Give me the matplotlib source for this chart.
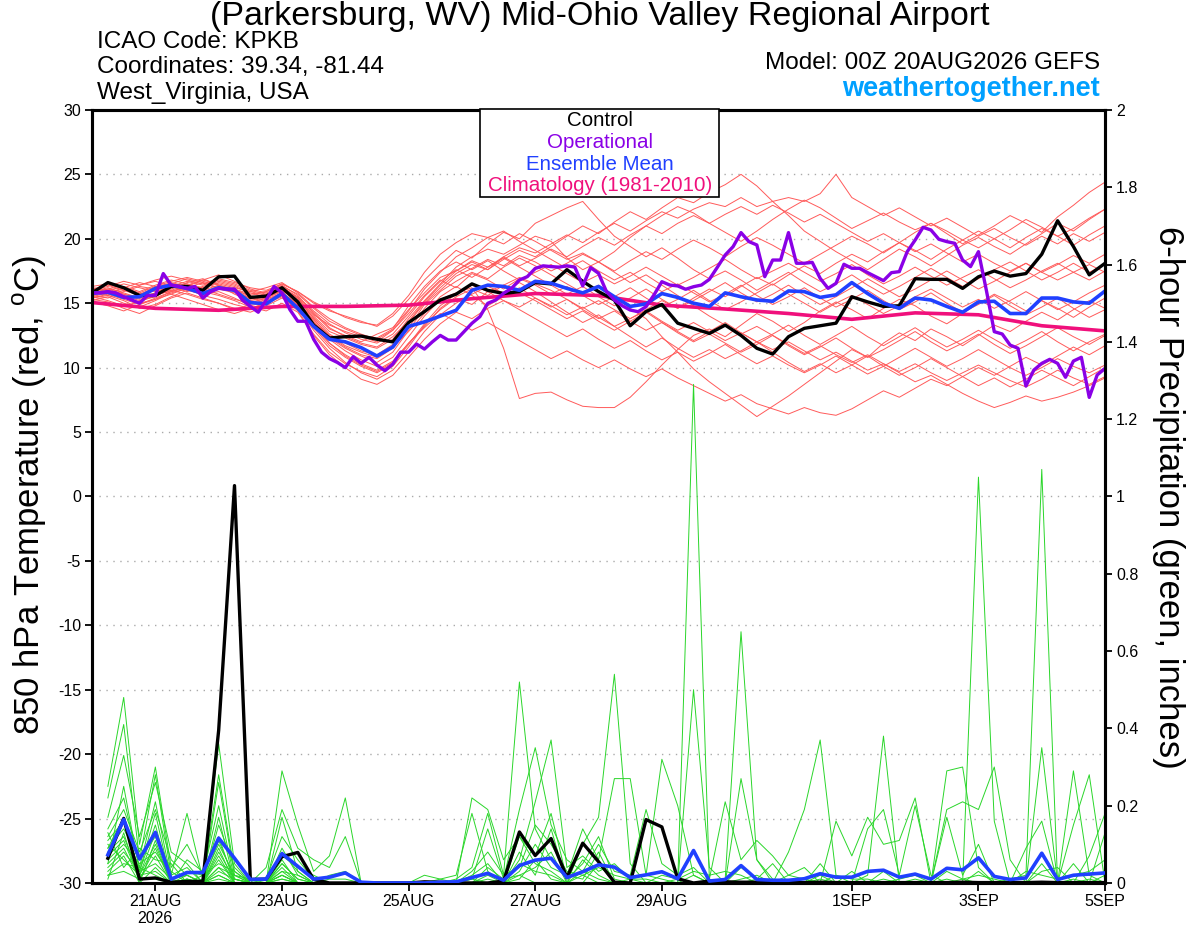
import numpy as np
import matplotlib
matplotlib.use("Agg")
import matplotlib.pyplot as plt
from matplotlib.patches import Rectangle

plt.rcParams['font.family'] = ['Liberation Sans', 'DejaVu Sans']
plt.rcParams['mathtext.fontset'] = 'custom'
plt.rcParams['mathtext.rm'] = 'Liberation Sans'
plt.rcParams['axes.unicode_minus'] = False

# forecast hours of the 00Z 20AUG2026 GEFS run
hours = np.arange(0, 385, 6)        # ensemble, 6-hourly
hours_op = np.arange(0, 385, 3)     # operational, 3-hourly
hours_pcp = hours[1:]               # 6-h precip ends at +6h
clim_hours = np.arange(0, 385, 24)  # daily climatology

tick_days = [1, 3, 5, 7, 9, 12, 14, 16]
tick_labels = ['21AUG\n2026', '23AUG', '25AUG', '27AUG', '29AUG', '1SEP', '3SEP', '5SEP']

# ---- 850 hPa temperature (C) ----
control_t = [15.8, 16.6, 16.2, 15.6, 15.6, 16.3, 16.3, 16.0, 17.05, 17.1, 15.45, 15.55, 16.2, 15.1, 13.3, 12.3, 12.4,
             12.45, 12.2, 12.0, 13.5, 14.35, 15.25, 15.7, 16.5, 16.0, 15.75, 15.9, 16.6, 16.5, 17.6, 16.7, 15.9,
             15.25, 13.25, 14.35, 14.9, 13.45, 13.05, 12.65, 13.3, 12.5, 11.5, 11.05, 12.4, 13.05, 13.25, 13.45, 15.5,
             15.1, 14.75, 14.8, 16.9, 16.85, 16.85, 16.15, 17.05, 17.5, 17.1, 17.3, 18.8, 21.4, 19.4, 17.2, 18.1]

mean_t = [15.77, 15.85, 15.45, 15.5, 16.15, 16.4, 16.15, 15.75, 16.2, 16.0, 15.05, 14.95, 15.75, 14.6, 13.2, 12.2, 12.0,
          11.55, 10.9, 11.6, 13.2, 13.55, 14.0, 14.45, 16.0, 16.4, 16.3, 16.0, 16.7, 16.55, 16.15, 15.8, 16.3,
          15.5, 14.75, 14.95, 15.75, 15.45, 15.0, 14.75, 15.8, 15.5, 15.25, 15.15, 15.95, 15.9, 15.45, 15.65, 16.6,
          15.75, 15.0, 14.6, 15.4, 15.25, 14.75, 14.3, 15.1, 15.15, 14.2, 14.2, 15.4, 15.4, 15.1, 15.0, 15.95]

clim_t = [15.05, 14.6, 14.45, 14.75, 14.75, 14.85, 15.35, 15.75, 15.6, 14.85, 14.55, 14.2, 13.75, 14.25, 14.1,
          13.25, 12.85]

oper_t = [15.8, 15.8, 15.9, 15.8, 15.5, 15.25, 15.0, 15.6, 15.6, 17.3, 16.4, 16.3, 16.15, 16.3, 15.4, 15.9, 16.15,
          16.1, 16.1, 15.25, 14.75, 14.3, 15.25, 16.3, 15.8, 14.5, 13.6, 13.6, 12.2, 11.2, 10.7, 10.4, 10.0,
          10.85, 10.33, 10.8, 10.2, 9.76, 10.28, 11.2, 11.2, 11.83, 11.44, 12.0, 12.5, 12.14, 12.14, 12.79, 13.44,
          13.95, 14.99, 15.25, 15.77, 16.15, 16.8, 17.06, 17.7, 17.9, 17.84, 17.8, 17.9, 17.8, 16.34, 17.76, 17.32,
          15.9, 15.25, 14.8, 14.47, 14.34, 14.73, 15.64, 16.67, 16.41, 16.34, 16.08, 16.28, 16.41, 16.85, 17.78, 18.74,
          19.39, 20.48, 19.78, 19.52, 17.06, 18.35, 18.35, 20.48, 18.1, 18.1, 18.17, 16.93, 16.15, 16.54, 18.02, 17.71,
          17.71, 17.37, 17.06, 16.75, 17.37, 17.45, 19.0, 19.9, 20.89, 20.68, 19.96, 19.78, 19.65, 18.35, 17.84, 19.0,
          16.0, 12.79, 12.61, 11.75, 11.5, 8.57, 9.81, 10.33, 10.64, 10.33, 9.25, 10.51, 10.8, 7.69, 9.43, 9.94]

members_t = [
    [15.6, 16.0, 16.3, 15.9, 16.4, 16.8, 16.5, 16.2, 16.6, 16.3, 15.8, 15.5, 16.0,
     15.2, 14.0, 12.8, 12.3, 11.8, 11.5, 12.2,
     13.8, 15.2, 16.5, 17.8, 18.6, 19.2, 18.8, 19.5, 20.2,
     19.8, 18.5, 17.6, 18.2, 19.0, 20.1, 21.0, 21.8, 22.5, 22.0, 21.2, 20.5, 19.8, 20.6, 21.5, 22.3, 23.0, 22.4,
     21.6, 20.8, 21.4, 22.0, 21.3, 20.7, 21.2, 20.4, 19.6, 20.3, 21.0, 21.8, 21.2, 20.5, 21.7, 22.6, 23.6, 24.4],
    [15.9, 16.2, 15.8, 15.4, 15.7, 16.1, 16.6, 16.9, 16.4, 16.0, 15.6, 15.9, 16.4,
     15.6, 14.2, 13.0, 12.5, 12.0, 12.6, 13.1,
     14.5, 15.8, 17.0, 17.5, 18.2, 17.6, 18.4, 19.1, 18.6,
     19.4, 20.2, 21.0, 20.4, 21.3, 22.1, 21.5, 22.4, 23.2, 22.8, 23.6, 24.2, 25.0, 24.1, 22.9, 21.8, 20.6, 19.8,
     19.0, 18.3, 17.6, 18.4, 19.2, 18.6, 17.9, 18.7, 19.5, 20.1, 19.4, 18.8, 19.6, 20.4, 21.2, 20.6, 21.5, 22.3],
    [15.4, 15.6, 15.2, 14.6, 14.9, 15.5, 16.0, 15.7, 15.9, 15.4, 14.8, 15.1, 15.7,
     15.0, 13.6, 12.2, 11.3, 10.6, 10.1, 10.8,
     12.4, 14.0, 15.3, 15.8, 16.2, 14.5, 11.5, 7.6, 8.0,
     8.1, 7.5, 7.0, 6.9, 6.9, 7.7, 8.9, 10.2, 11.4, 12.5, 13.0, 12.4, 13.3, 14.2, 13.6, 12.8, 13.5, 14.4,
     15.1, 14.5, 13.8, 14.6, 15.3, 14.8, 14.0, 13.4, 14.2, 15.0, 15.7, 15.1, 14.4, 15.2, 14.6, 13.9, 14.7, 15.4],
    [16.1, 16.4, 16.0, 15.6, 16.0, 16.5, 16.9, 16.6, 16.2, 15.9, 15.3, 15.6, 16.2,
     15.4, 13.8, 12.3, 11.5, 10.9, 10.4, 11.2,
     12.9, 14.6, 15.9, 16.7, 17.4, 16.9, 17.8, 18.5, 17.9,
     17.2, 16.5, 15.8, 16.4, 15.5, 14.6, 13.8, 12.4, 11.2, 9.9, 8.9, 8.0, 7.1, 6.2, 7.0, 7.8, 8.7, 9.6,
     10.5, 11.4, 10.8, 11.9, 12.7, 12.1, 13.0, 12.4, 11.7, 12.5, 13.3, 12.8, 13.6, 14.3, 13.7, 14.5, 15.2, 14.6],
    [15.7, 15.9, 15.5, 15.0, 15.3, 15.9, 16.2, 16.0, 16.4, 15.7, 15.2, 15.4, 15.9,
     14.8, 13.2, 11.9, 11.0, 10.3, 9.8, 10.5,
     11.9, 13.2, 14.6, 15.5, 16.1, 15.6, 16.4, 17.0, 16.5,
     16.0, 15.3, 14.6, 15.2, 14.5, 13.8, 14.4, 13.6, 12.9, 13.5, 12.8, 12.1, 12.7, 12.0, 11.4, 12.0, 11.3, 10.6,
     11.2, 10.5, 9.8, 10.3, 9.6, 8.9, 9.4, 8.7, 8.0, 7.4, 6.9, 7.3, 7.8, 7.4, 7.7, 8.1, 8.6, 9.2],
    [15.3, 15.1, 14.6, 14.2, 14.8, 15.4, 15.8, 15.4, 15.0, 14.5, 14.9, 15.3, 15.8,
     14.6, 12.9, 11.5, 10.4, 9.6, 9.1, 9.8,
     11.2, 12.8, 14.1, 15.0, 15.7, 16.3, 15.8, 16.6, 15.9,
     15.1, 14.3, 13.5, 14.1, 13.2, 12.4, 11.6, 12.3, 11.5, 10.8, 11.4, 10.7, 11.3, 12.0, 11.2, 10.4, 9.7, 10.3,
     9.6, 10.2, 10.9, 10.1, 9.4, 10.0, 10.7, 10.0, 9.3, 8.6, 9.2, 8.5, 9.1, 9.8, 9.2, 8.6, 9.3, 10.0],
    [15.8, 16.1, 16.5, 16.2, 15.9, 16.3, 16.7, 16.4, 16.8, 16.5, 16.0, 15.7, 16.1,
     15.3, 14.1, 13.3, 12.8, 12.4, 12.0, 12.9,
     14.2, 15.6, 16.8, 16.2, 17.3, 16.8, 16.1, 16.9, 16.4,
     15.7, 16.3, 15.6, 14.9, 15.5, 16.2, 15.4, 14.7, 15.3, 16.0, 15.2, 14.5, 15.1, 15.8, 16.5, 15.7, 15.0, 14.3,
     15.0, 15.6, 14.9, 14.2, 14.8, 15.5, 16.1, 15.4, 14.7, 15.3, 14.6, 15.2, 15.9, 15.2, 14.5, 15.1, 15.8, 16.4],
    [16.0, 16.3, 16.7, 16.4, 16.8, 17.1, 16.8, 16.5, 16.9, 16.6, 16.2, 16.0, 16.5,
     15.9, 15.0, 14.4, 14.0, 13.6, 13.2, 14.0,
     15.3, 16.8, 18.0, 19.1, 18.5, 19.6, 20.5, 20.0, 21.2,
     21.8, 22.4, 22.9, 21.5, 20.2, 19.4, 18.6, 19.3, 18.5, 17.6, 16.9, 17.5, 16.8, 16.0, 16.7, 17.4, 16.6, 15.9,
     16.5, 17.2, 16.4, 15.7, 16.3, 17.0, 17.7, 17.0, 16.3, 16.9, 17.6, 18.2, 17.5, 16.8, 17.4, 18.1, 17.4, 18.0],
    [15.5, 15.8, 16.1, 15.7, 16.2, 16.6, 16.3, 15.9, 16.3, 16.1, 15.5, 15.2, 15.8,
     15.0, 13.9, 12.6, 11.9, 11.3, 11.0, 11.8,
     13.5, 15.0, 16.2, 17.3, 18.0, 17.6, 18.6, 19.3, 18.9,
     19.6, 20.3, 19.7, 20.5, 21.2, 20.6, 21.4, 22.1, 21.6, 22.3, 22.8, 22.5, 23.2, 22.5, 22.9, 23.2, 22.9, 23.5,
     25.0, 23.2, 22.5, 21.8, 22.4, 21.7, 21.0, 21.6, 20.9, 20.2, 20.8, 20.1, 19.5, 20.2, 19.6, 20.4, 19.8, 20.5],
    [15.6, 15.4, 15.9, 16.3, 16.1, 15.7, 16.2, 16.6, 16.1, 15.8, 15.4, 15.0, 15.6,
     14.9, 13.5, 12.4, 11.6, 11.0, 10.7, 11.5,
     13.1, 14.9, 16.0, 17.1, 17.7, 18.4, 17.9, 18.7, 18.2,
     17.5, 18.1, 18.8, 18.2, 17.5, 18.3, 19.0, 18.4, 19.2, 19.9, 19.3, 18.6, 19.4, 20.1, 19.5, 18.8, 18.1, 18.8,
     19.5, 20.2, 19.6, 18.9, 19.7, 20.5, 21.2, 20.6, 19.9, 19.3, 20.0, 20.7, 21.5, 20.9, 20.2, 20.8, 21.6, 22.3],
    [15.2, 15.5, 15.0, 14.7, 15.2, 15.8, 16.1, 15.6, 15.3, 14.9, 14.6, 15.0, 15.5,
     14.4, 12.6, 11.2, 10.3, 9.7, 9.3, 10.1,
     11.6, 13.3, 14.5, 15.4, 14.9, 15.9, 16.4, 15.8, 15.2,
     14.5, 13.8, 14.4, 13.6, 12.9, 13.6, 14.3, 13.5, 12.8, 12.1, 12.8, 13.5, 12.7, 12.0, 12.6, 13.3, 12.5, 11.8,
     12.5, 13.2, 12.4, 11.7, 12.4, 13.1, 12.3, 11.6, 12.2, 12.9, 12.2, 11.5, 12.1, 12.8, 12.0, 11.3, 12.0, 12.6],
    [16.2, 16.0, 15.7, 15.3, 15.6, 16.0, 16.4, 16.8, 17.2, 16.7, 16.1, 15.8, 16.3,
     15.7, 14.6, 13.6, 13.0, 12.5, 12.3, 13.0,
     14.8, 16.3, 17.5, 18.2, 17.6, 18.3, 17.5, 16.8, 17.4,
     18.0, 17.3, 16.6, 17.2, 16.5, 17.1, 17.8, 17.1, 16.4, 17.0, 17.7, 18.4, 17.6, 16.9, 17.5, 18.1, 17.4, 16.7,
     17.3, 18.0, 17.2, 16.5, 17.1, 17.8, 17.1, 16.4, 17.0, 17.6, 16.9, 16.2, 16.8, 17.5, 18.1, 17.4, 16.8, 17.5],
    [15.9, 15.6, 16.0, 16.4, 16.7, 16.3, 15.9, 16.3, 16.7, 16.4, 15.9, 16.2, 16.6,
     15.8, 14.7, 13.8, 13.1, 12.6, 12.2, 12.9,
     14.4, 16.1, 17.4, 18.6, 19.3, 20.1, 19.6, 20.4, 19.8,
     19.1, 18.4, 18.9, 18.2, 17.4, 16.6, 17.2, 16.4, 15.6, 14.8, 14.0, 13.3, 12.6, 13.2, 12.5, 11.8, 11.1, 11.7,
     11.0, 10.4, 11.0, 10.3, 9.7, 10.3, 9.6, 9.0, 9.6, 10.2, 9.6, 9.0, 8.5, 9.1, 9.8, 9.2, 8.7, 9.3],
    [15.4, 15.7, 15.3, 14.9, 15.4, 15.9, 16.3, 15.9, 15.6, 15.2, 14.7, 14.4, 15.0,
     14.3, 12.5, 11.0, 10.0, 9.1, 8.7, 9.4,
     10.8, 12.2, 13.4, 14.3, 13.8, 14.6, 15.2, 14.7, 15.4,
     14.8, 14.1, 14.7, 13.9, 13.2, 13.8, 14.5, 15.2, 14.6, 15.4, 16.1, 15.5, 16.3, 17.0, 16.4, 17.2, 17.9, 17.3,
     18.1, 18.8, 18.2, 19.0, 19.7, 19.1, 18.4, 19.2, 19.9, 20.6, 20.0, 19.3, 20.1, 20.8, 20.2, 19.5, 20.3, 21.0],
    [15.7, 16.0, 15.6, 15.2, 15.5, 16.2, 16.5, 16.1, 15.7, 15.3, 15.0, 15.4, 16.0,
     15.1, 13.7, 12.5, 11.7, 11.2, 10.8, 11.6,
     12.8, 14.2, 15.5, 16.3, 15.6, 14.8, 15.5, 16.2, 15.4,
     14.7, 15.3, 14.5, 13.8, 14.4, 13.6, 12.9, 13.5, 12.7, 12.0, 12.6, 11.9, 11.2, 11.8, 12.5, 11.7, 11.0, 11.6,
     12.3, 11.5, 10.8, 11.4, 12.1, 12.8, 12.0, 11.3, 11.9, 12.6, 11.8, 11.1, 11.7, 12.4, 13.1, 12.4, 11.8, 12.5],
    [16.3, 16.5, 16.2, 15.8, 16.3, 16.7, 17.0, 16.7, 16.4, 16.1, 15.7, 15.9, 16.5,
     15.9, 15.1, 14.5, 13.9, 13.5, 13.3, 14.2,
     15.6, 17.4, 18.8, 19.7, 20.4, 20.1, 20.6, 19.8, 19.1,
     18.4, 17.7, 18.3, 17.5, 16.8, 17.4, 16.6, 15.9, 16.5, 15.8, 15.1, 15.7, 16.4, 15.6, 14.9, 15.5, 16.2, 15.4,
     14.7, 15.3, 16.0, 15.2, 14.5, 15.1, 15.8, 15.0, 14.3, 14.9, 15.6, 14.8, 14.1, 14.7, 15.4, 14.6, 13.9, 14.5],
    [15.5, 15.2, 14.8, 15.1, 15.6, 16.0, 15.7, 15.3, 15.0, 14.6, 14.3, 14.8, 15.4,
     14.7, 13.1, 11.7, 10.8, 10.1, 9.6, 10.3,
     11.8, 13.4, 14.8, 15.7, 16.4, 15.9, 15.2, 14.5, 13.8,
     13.1, 12.4, 13.0, 12.2, 11.5, 12.1, 11.3, 10.6, 11.2, 10.5, 11.1, 11.8, 11.0, 10.3, 10.9, 10.2, 9.6, 10.2,
     10.9, 10.2, 9.5, 10.1, 10.8, 11.5, 10.8, 10.1, 10.7, 11.4, 10.7, 10.0, 9.4, 10.0, 10.7, 10.1, 9.6, 10.2],
    [16.0, 15.8, 16.2, 16.6, 16.3, 15.9, 16.3, 16.8, 16.5, 16.2, 15.9, 15.6, 16.2,
     15.5, 14.4, 13.4, 12.7, 12.2, 11.9, 12.6,
     14.0, 15.5, 16.7, 17.6, 17.0, 17.8, 18.5, 17.8, 17.1,
     16.4, 15.7, 16.3, 15.5, 14.8, 15.4, 16.1, 15.3, 14.6, 15.2, 15.9, 16.6, 15.8, 15.1, 15.7, 16.4, 15.6, 14.9,
     15.5, 16.2, 16.9, 16.2, 15.5, 16.1, 16.8, 17.5, 16.8, 16.1, 16.7, 17.4, 18.1, 17.4, 18.0, 18.7, 18.1, 18.8],
    [15.8, 16.1, 15.7, 15.4, 15.8, 16.4, 16.1, 15.8, 16.2, 16.0, 15.4, 15.7, 16.3,
     15.4, 14.3, 13.1, 12.4, 11.9, 11.6, 12.4,
     13.6, 15.1, 16.4, 17.5, 18.3, 17.8, 18.6, 17.9, 18.5,
     19.2, 18.6, 19.4, 20.1, 19.5, 20.3, 21.0, 20.4, 21.2, 21.8, 21.2, 21.9, 22.5, 21.9, 22.6, 22.0, 21.3, 21.9,
     21.2, 20.5, 19.8, 20.4, 19.7, 19.0, 19.6, 18.9, 18.2, 18.8, 18.1, 17.5, 18.1, 17.4, 16.8, 17.4, 18.0, 17.4],
    [15.1, 14.8, 14.4, 14.9, 15.3, 15.7, 15.3, 14.9, 14.5, 14.2, 14.6, 15.0, 15.6,
     14.9, 13.3, 11.9, 10.9, 10.2, 9.7, 10.4,
     11.9, 13.1, 14.2, 13.6, 12.9, 13.5, 12.8, 12.1, 11.4,
     10.7, 11.3, 10.6, 10.0, 10.6, 9.9, 9.3, 9.9, 9.2, 8.6, 8.0, 7.4, 7.9, 7.2, 6.8, 6.4, 6.9, 6.5,
     6.3, 6.8, 7.5, 8.2, 7.7, 8.4, 9.1, 8.6, 9.3, 10.0, 9.4, 10.1, 10.8, 10.2, 10.9, 11.6, 11.0, 11.7],
]

# ---- 6-hour precipitation (inches), +6h .. +384h ----
control_p = [0.064, 0.167, 0.01, 0.013, 0.002, 0.004, 0.004, 0.395, 1.028, 0.009, 0.01, 0.068, 0.079, 0.009, 0.0, 0.0,
             0.0, 0.0, 0.0, 0.0, 0.003, 0.002, 0.0, 0.0, 0.0, 0.005, 0.132, 0.071, 0.115, 0.014, 0.103, 0.055,
             0.002, 0.0, 0.164, 0.145, 0.011, 0.0, 0.005, 0.003, 0.002, 0.002, 0.002, 0.001, 0.001, 0.002, 0.001, 0.001,
             0.001, 0.001, 0.001, 0.001, 0.001, 0.001, 0.002, 0.001, 0.001, 0.001, 0.001, 0.002, 0.001, 0.001, 0.001, 0.001]

mean_p = [0.073, 0.164, 0.062, 0.131, 0.01, 0.027, 0.027, 0.116, 0.064, 0.009, 0.01, 0.076, 0.043, 0.01, 0.015, 0.026,
          0.002, 0.0, 0.0, 0.0, 0.0, 0.002, 0.003, 0.014, 0.025, 0.007, 0.045, 0.059, 0.064, 0.014, 0.029, 0.047,
          0.041, 0.014, 0.021, 0.029, 0.011, 0.084, 0.005, 0.009, 0.045, 0.009, 0.007, 0.007, 0.011, 0.024, 0.015, 0.015,
          0.03, 0.033, 0.015, 0.023, 0.01, 0.038, 0.034, 0.065, 0.017, 0.009, 0.013, 0.077, 0.009, 0.02, 0.023, 0.026]

members_p = [
    [0.25, 0.48, 0.10, 0.30, 0.04, 0.10, 0.02, 0.36, 0.05, 0, 0, 0.29, 0.15, 0.03, 0.07, 0.22,
     0, 0, 0, 0, 0.02, 0.01, 0, 0.22, 0.19, 0.06, 0.12, 0.05, 0.03, 0, 0.10, 0.17,
     0.54, 0.05, 0, 0, 0, 0.50, 0.04, 0, 0.27, 0.06, 0.01, 0, 0, 0.05, 0, 0,
     0.02, 0.38, 0, 0, 0, 0.29, 0.30, 0.04, 0, 0, 0, 0.35, 0, 0.29, 0.02, 0],
    [0.22, 0.41, 0.06, 0.28, 0.02, 0.18, 0.01, 0.28, 0.03, 0, 0.04, 0.19, 0.09, 0.06, 0.04, 0.12,
     0, 0, 0, 0, 0, 0, 0.01, 0.04, 0.18, 0.02, 0.52, 0.14, 0.06, 0.02, 0.14, 0.06,
     0.27, 0.27, 0.02, 0.01, 0, 1.29, 0.01, 0.21, 0.06, 0.11, 0.07, 0.02, 0.01, 0, 0.16, 0.07,
     0.17, 0.10, 0.11, 0.22, 0, 0.19, 0.21, 0.19, 0.30, 0.06, 0, 0.03, 0.04, 0, 0.07, 0.18],
    [0.17, 0.33, 0.12, 0.26, 0.08, 0.05, 0, 0.26, 0.02, 0, 0, 0.17, 0.03, 0, 0.02, 0.03,
     0, 0, 0, 0, 0, 0, 0, 0.01, 0.14, 0.01, 0.19, 0.35, 0.15, 0.06, 0.03, 0.10,
     0.03, 0.02, 0.19, 0.05, 0.02, 0.04, 0, 0.01, 0.65, 0.06, 0, 0.08, 0.19, 0.37, 0.02, 0,
     0.14, 0.19, 0.02, 0.20, 0.02, 0, 0, 1.05, 0.16, 0, 0.09, 0.16, 0, 0.15, 0.28, 0],
    [0.14, 0.22, 0.04, 0.21, 0.01, 0.03, 0.02, 0.20, 0.01, 0, 0.01, 0.12, 0.06, 0.01, 0, 0,
     0, 0, 0, 0, 0, 0.01, 0.02, 0.18, 0.03, 0, 0.06, 0.21, 0.37, 0.04, 0.07, 0.03,
     0.05, 0.01, 0.02, 0.32, 0.20, 0.02, 0, 0, 0.04, 0.01, 0.05, 0, 0, 0.01, 0, 0.03,
     0, 0.03, 0, 0.01, 0, 0.17, 0.02, 0.10, 0, 0.01, 0.02, 1.07, 0, 0.05, 0, 0.13],
    [0.12, 0.19, 0.08, 0.19, 0.06, 0.02, 0, 0.15, 0.04, 0, 0, 0.09, 0.02, 0, 0.01, 0.01,
     0, 0, 0, 0, 0, 0, 0, 0.02, 0.05, 0, 0.12, 0.07, 0.18, 0.01, 0.05, 0.12,
     0.01, 0, 0, 0.02, 0.01, 0.03, 0.02, 0.03, 0.02, 0, 0, 0.02, 0.04, 0, 0.02, 0.01,
     0.01, 0, 0.01, 0.02, 0, 0.03, 0.01, 0.02, 0.01, 0, 0.03, 0.02, 0.01, 0.02, 0.03, 0.06],
    [0.11, 0.16, 0.03, 0.15, 0, 0.06, 0.03, 0.12, 0, 0, 0, 0.07, 0.04, 0.02, 0, 0,
     0, 0, 0, 0, 0, 0, 0, 0.03, 0.08, 0.02, 0.04, 0.15, 0.10, 0.03, 0.02, 0.04,
     0.02, 0.01, 0.01, 0, 0, 0.02, 0, 0, 0.01, 0.02, 0, 0, 0, 0.02, 0, 0,
     0, 0.01, 0, 0, 0, 0.01, 0, 0.03, 0, 0, 0, 0.05, 0, 0.01, 0, 0.02],
    [0.09, 0.14, 0.06, 0.12, 0.03, 0, 0.01, 0.10, 0.02, 0.01, 0, 0.05, 0.01, 0, 0, 0,
     0, 0, 0, 0, 0, 0, 0, 0, 0.02, 0, 0.08, 0.02, 0.14, 0, 0.06, 0.02,
     0, 0.01, 0, 0, 0.01, 0, 0, 0, 0, 0.01, 0, 0, 0.01, 0, 0, 0,
     0, 0, 0, 0, 0, 0, 0.01, 0, 0, 0, 0, 0, 0, 0, 0.01, 0],
    [0.08, 0.12, 0.02, 0.10, 0, 0.01, 0, 0.08, 0.01, 0, 0, 0.04, 0, 0, 0, 0,
     0, 0, 0, 0, 0, 0, 0, 0.01, 0, 0, 0.03, 0.10, 0.04, 0.02, 0.01, 0.08,
     0, 0, 0, 0, 0, 0, 0, 0, 0, 0, 0, 0, 0, 0, 0, 0,
     0, 0, 0, 0, 0, 0, 0, 0, 0, 0, 0, 0, 0, 0, 0, 0],
    [0.06, 0.10, 0.05, 0.08, 0.02, 0.04, 0, 0.06, 0, 0, 0, 0.03, 0.02, 0, 0, 0,
     0, 0, 0, 0, 0, 0, 0, 0, 0.04, 0.01, 0.02, 0.04, 0.08, 0, 0.03, 0.01,
     0, 0, 0, 0, 0, 0, 0, 0, 0, 0, 0, 0, 0, 0, 0, 0,
     0, 0, 0, 0, 0, 0, 0, 0, 0, 0, 0, 0, 0, 0, 0, 0],
    [0.05, 0.09, 0.01, 0.07, 0, 0, 0.02, 0.05, 0.03, 0, 0, 0.02, 0, 0, 0, 0,
     0, 0, 0, 0, 0, 0, 0, 0, 0, 0, 0.05, 0.03, 0.02, 0, 0, 0.05,
     0, 0, 0, 0, 0, 0, 0, 0, 0, 0, 0, 0, 0, 0, 0, 0,
     0, 0, 0, 0, 0, 0, 0, 0, 0, 0, 0, 0, 0, 0, 0, 0],
    [0.04, 0.08, 0.03, 0.05, 0.01, 0.02, 0, 0.04, 0, 0, 0, 0.02, 0, 0, 0, 0,
     0, 0, 0, 0, 0, 0, 0, 0, 0.01, 0, 0.01, 0.06, 0.01, 0, 0.02, 0,
     0, 0, 0, 0, 0, 0, 0, 0, 0, 0, 0, 0, 0, 0, 0, 0,
     0, 0, 0, 0, 0, 0, 0, 0, 0, 0, 0, 0, 0, 0, 0, 0],
    [0.03, 0.07, 0, 0.04, 0, 0, 0, 0.03, 0.01, 0, 0, 0.01, 0, 0, 0, 0,
     0, 0, 0, 0, 0, 0, 0, 0, 0, 0, 0.02, 0, 0, 0, 0, 0,
     0, 0, 0, 0, 0, 0, 0, 0, 0, 0, 0, 0, 0, 0, 0, 0,
     0, 0, 0, 0, 0, 0, 0, 0, 0, 0, 0, 0, 0, 0, 0, 0],
    [0.10, 0.06, 0.02, 0.03, 0, 0.01, 0, 0.02, 0, 0, 0, 0.05, 0.01, 0, 0, 0,
     0, 0, 0, 0, 0, 0, 0, 0, 0, 0, 0, 0, 0, 0, 0, 0,
     0, 0, 0, 0, 0, 0, 0, 0, 0, 0, 0, 0, 0, 0, 0, 0,
     0, 0, 0, 0, 0, 0, 0, 0, 0, 0, 0, 0, 0, 0, 0, 0],
    [0.02, 0.05, 0.04, 0.02, 0, 0, 0, 0.02, 0, 0, 0, 0, 0, 0, 0, 0,
     0, 0, 0, 0, 0, 0, 0, 0, 0, 0, 0, 0, 0, 0, 0, 0,
     0, 0, 0, 0, 0, 0, 0, 0, 0, 0, 0, 0, 0, 0, 0, 0,
     0, 0, 0, 0, 0, 0, 0, 0, 0, 0, 0, 0, 0, 0, 0, 0],
    [0.07, 0.11, 0.01, 0.09, 0, 0, 0, 0.07, 0, 0, 0, 0.03, 0, 0, 0, 0,
     0, 0, 0, 0, 0, 0, 0, 0, 0, 0, 0, 0, 0, 0, 0, 0,
     0, 0, 0, 0, 0, 0, 0, 0, 0, 0, 0, 0, 0, 0, 0, 0,
     0, 0, 0, 0, 0, 0, 0, 0, 0, 0, 0, 0, 0, 0, 0, 0],
    [0.13, 0.04, 0.09, 0.06, 0.05, 0, 0, 0.04, 0.02, 0, 0, 0.02, 0, 0, 0, 0,
     0, 0, 0, 0, 0, 0, 0, 0, 0, 0, 0, 0, 0, 0, 0, 0,
     0, 0, 0, 0, 0, 0, 0, 0, 0, 0, 0, 0, 0, 0, 0, 0,
     0, 0, 0, 0, 0, 0, 0, 0, 0, 0, 0, 0, 0, 0, 0, 0],
    [0.01, 0.13, 0, 0.11, 0, 0.02, 0, 0.09, 0, 0, 0, 0.08, 0.03, 0, 0, 0,
     0, 0, 0, 0, 0, 0, 0, 0, 0, 0, 0, 0, 0, 0, 0, 0,
     0, 0, 0, 0, 0, 0, 0, 0, 0, 0, 0, 0, 0, 0, 0, 0,
     0, 0, 0, 0, 0, 0, 0, 0, 0, 0, 0, 0, 0, 0, 0, 0],
    [0.09, 0.17, 0.02, 0.13, 0.01, 0, 0, 0.11, 0.01, 0, 0, 0, 0, 0, 0, 0,
     0, 0, 0, 0, 0, 0, 0, 0, 0, 0, 0, 0, 0, 0, 0, 0,
     0, 0, 0, 0, 0, 0, 0, 0, 0, 0, 0, 0, 0, 0, 0, 0,
     0, 0, 0, 0, 0, 0, 0, 0, 0, 0, 0, 0, 0, 0, 0, 0],
    [0.05, 0.25, 0.03, 0.18, 0, 0.01, 0, 0.17, 0, 0, 0, 0.06, 0, 0, 0, 0,
     0, 0, 0, 0, 0, 0, 0, 0, 0, 0, 0, 0, 0, 0, 0, 0,
     0, 0, 0, 0, 0, 0, 0, 0, 0, 0, 0, 0, 0, 0, 0, 0,
     0, 0, 0, 0, 0, 0, 0, 0, 0, 0, 0, 0, 0, 0, 0, 0],
    [0.02, 0.03, 0.01, 0.01, 0, 0, 0, 0.01, 0, 0, 0, 0.01, 0, 0, 0, 0,
     0, 0, 0, 0, 0, 0, 0, 0, 0, 0, 0, 0, 0, 0, 0, 0,
     0, 0, 0, 0, 0, 0, 0, 0, 0, 0, 0, 0, 0, 0, 0, 0,
     0, 0, 0, 0, 0, 0, 0, 0, 0, 0, 0, 0, 0, 0, 0, 0],
]

RED = '#ff5a5a'
GREEN = '#2ad62a'
PURPLE = '#8a00e6'
BLUE = '#2040ff'
PINK = '#f0107c'

fig = plt.figure(figsize=(12, 9.27), dpi=100)
ax = fig.add_axes([0.0767, 0.0475, 0.8442, 0.8339])
ax2 = ax.twinx()

d = hours / 24.0
for m in members_t:
    ax.plot(d, m, color=RED, lw=0.7, zorder=2)
ax.plot(clim_hours / 24.0, clim_t, color=PINK, lw=2.6, zorder=3)
ax.plot(d, control_t, color='black', lw=2.4, zorder=4)
ax.plot(d, mean_t, color=BLUE, lw=2.6, zorder=5)
ax.plot(hours_op / 24.0, oper_t, color=PURPLE, lw=2.4, zorder=6)

dp = hours_pcp / 24.0
for m in members_p:
    ax2.plot(dp, m, color=GREEN, lw=0.7, zorder=2)
ax2.plot(dp, control_p, color='black', lw=2.4, zorder=4)
ax2.plot(dp, mean_p, color=BLUE, lw=2.6, zorder=5)

ax.set_xlim(0, 16)
ax.set_ylim(-30, 30)
ax2.set_ylim(0, 2)
ax.set_yticks(np.arange(-30, 31, 5))
p_ticks = np.arange(0, 2.01, 0.2)
ax2.set_yticks(p_ticks)
ax2.set_yticklabels([f"{v:g}" for v in np.round(p_ticks, 1)])
ax.set_xticks(tick_days)
ax.set_xticklabels(tick_labels)

ax.yaxis.grid(True, linestyle=(0, (1, 4)), color='#aaaaaa', lw=1.0)
ax.set_axisbelow(True)

for a in (ax, ax2):
    for s in a.spines.values():
        s.set_linewidth(2.2)
ax.tick_params(axis='y', direction='out', length=5, width=1.3, labelsize=11.5, pad=3)
ax2.tick_params(axis='y', direction='out', length=5, width=1.3, labelsize=11.5, pad=3)
ax.tick_params(axis='x', direction='out', length=6, width=1.3, labelsize=11.5, pad=2)

fig.text(30 / 1200, 1 - 495 / 927, r'850 hPa Temperature (red, $^{\rm o}$C)', rotation=90,
         ha='center', va='center', fontsize=25)
fig.text(1168 / 1200, 1 - 497 / 927, '6-hour Precipitation (green, inches)', rotation=270,
         ha='center', va='center', fontsize=25)

# header
fig.text(0.5, 1 - 16 / 927, '(Parkersburg, WV) Mid-Ohio Valley Regional Airport',
         ha='center', va='center', fontsize=24.5)
fig.text(97 / 1200, 1 - 42 / 927, 'ICAO Code: KPKB', ha='left', va='center', fontsize=17.5)
fig.text(97 / 1200, 1 - 67 / 927, 'Coordinates: 39.34, -81.44', ha='left', va='center', fontsize=17.5)
fig.text(97 / 1200, 1 - 93 / 927, 'West_Virginia, USA', ha='left', va='center', fontsize=17.5)
fig.text(1100 / 1200, 1 - 63 / 927, 'Model: 00Z 20AUG2026 GEFS', ha='right', va='center', fontsize=17.5)
fig.text(1100 / 1200, 1 - 89 / 927, 'weathertogether.net', ha='right', va='center', fontsize=19.5,
         fontweight='bold', color='#00a0ff')

# legend box
fig.patches.append(Rectangle((480 / 1200, 1 - 197 / 927), 239 / 1200, 88 / 927, transform=fig.transFigure,
                             facecolor='white', edgecolor='black', lw=1.2, zorder=5))
legend_items = [('Control', 'black'), ('Operational', PURPLE), ('Ensemble Mean', BLUE),
                ('Climatology (1981-2010)', PINK)]
for i, (txt, col) in enumerate(legend_items):
    fig.text(600 / 1200, 1 - (121 + 21.5 * i) / 927, txt, ha='center', va='center', fontsize=14.8,
             color=col, zorder=6)

fig.savefig('out.png', dpi=100)
